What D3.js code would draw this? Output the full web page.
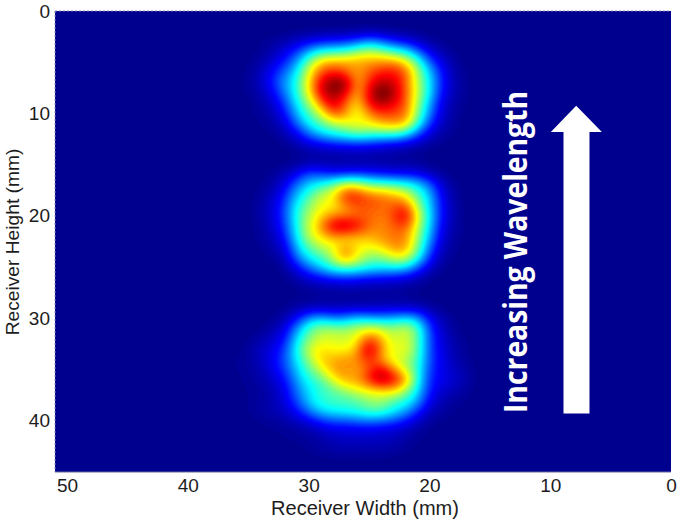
<!DOCTYPE html>
<html>
<head>
<meta charset="utf-8">
<script src="https://cdnjs.cloudflare.com/ajax/libs/d3/7.8.5/d3.min.js"></script>
<style>
html, body { margin: 0; padding: 0; background: #fff; }
svg { display: block; }
text { font-family: "Liberation Sans", Arial, sans-serif; fill: #1c1c1c; }
</style>
</head>
<body>
<svg id="chart" width="680" height="520"></svg>
<script>
//--------------------------DATA------------------------------------------------
var xTicks = [50, 40, 30, 20, 10, 0];
var yTicks = [0, 10, 20, 30, 40];
var xLabel = "Receiver Width (mm)";
var yLabel = "Receiver Height (mm)";
var note = "Increasing Wavelength";

// receiver width (mm) of each column in the spot tables below
var spotWidths = [36, 35, 34, 33, 32, 31, 30, 29, 28, 27, 26, 25, 24, 23, 22, 21, 20, 19, 18, 17];

// intensity in percent; first row is at the given height (mm)
var topStart = 2;
var topSpot = [
    [0,0,0,0,0,1,1,2,2,2,3,4,3,2,1,1,0,0,0,0],
    [0,0,1,2,4,7,11,14,15,17,20,27,22,16,12,7,3,1,0,0],
    [0,0,1,4,10,18,30,40,42,44,52,58,52,44,38,24,11,4,1,0],
    [0,1,3,8,16,27,50,68,72,72,72,72,74,75,66,46,22,10,3,0],
    [0,1,5,13,23,36,60,80,84,80,70,80,85,86,80,54,33,14,4,1],
    [0,2,6,15,28,40,64,90,102,102,70,85,96,92,80,56,36,15,5,1],
    [0,1,4,11,24,40,62,90,98,92,68,90,106,96,80,58,36,13,5,1],
    [0,0,3,7,18,36,52,76,94,80,64,88,96,90,80,54,30,10,3,1],
    [0,0,2,4,13,30,45,58,80,76,58,75,82,80,78,50,26,8,3,0],
    [0,0,1,3,8,22,37,46,54,58,64,62,70,72,70,42,18,6,2,0],
    [0,0,0,1,4,11,23,32,38,42,46,44,42,42,36,21,9,3,1,0],
    [0,0,0,0,1,4,8,11,13,14,15,14,12,10,8,5,2,1,0,0],
    [0,0,0,0,0,1,2,3,3,4,4,4,3,3,2,1,0,0,0,0]
];
var middleStart = 15;
var middleSpot = [
    [0,0,0,0,1,2,5,5,4,4,4,4,4,3,3,3,1,0,0,0],
    [0,0,0,2,5,12,22,20,17,18,20,18,16,14,14,12,7,3,0,0],
    [0,0,1,3,10,24,34,40,48,62,60,50,48,46,42,36,24,8,2,0],
    [0,0,2,6,15,32,43,58,62,86,86,78,76,70,64,46,32,11,3,0],
    [0,0,3,8,18,38,50,62,62,74,80,80,78,78,82,54,34,13,4,0],
    [0,0,3,8,19,40,55,66,74,74,78,78,76,80,94,62,36,13,4,0],
    [0,0,2,7,17,38,58,72,94,98,90,78,74,78,82,58,34,11,4,0],
    [0,0,2,5,14,36,56,66,72,68,70,70,74,76,76,54,30,9,3,0],
    [0,0,1,4,9,30,47,56,60,72,64,62,66,74,74,50,24,6,2,0],
    [0,0,0,2,5,24,37,44,56,78,62,51,51,60,62,42,17,4,1,0],
    [0,0,0,0,2,12,24,33,42,46,44,39,37,37,35,22,8,2,0,0],
    [0,0,0,0,1,4,9,13,16,18,16,14,13,12,10,6,2,0,0,0],
    [0,0,0,0,0,1,2,3,3,4,4,3,3,3,2,1,0,0,0,0]
];
var bottomStart = 28;
var bottomSpot = [
    [0,0,0,0,0,1,1,2,2,2,2,2,2,2,2,1,0,0,0,0],
    [0,0,0,0,1,3,5,6,5,6,6,6,7,7,7,6,3,1,0,0],
    [0,0,0,1,4,13,26,30,25,26,32,30,28,30,32,30,12,5,1,0],
    [0,0,1,4,9,26,44,54,52,52,56,60,58,52,60,46,18,7,2,0],
    [0,1,3,7,13,34,50,58,60,58,62,82,70,56,60,46,20,9,3,1],
    [0,2,6,10,18,38,58,66,62,62,68,98,74,60,64,46,20,10,4,1],
    [1,2,6,11,20,36,52,68,70,74,74,86,72,60,56,44,20,11,5,2],
    [1,2,4,10,18,32,46,58,72,74,70,80,92,74,58,42,18,11,6,3],
    [0,2,3,7,13,28,40,46,60,72,72,86,98,90,76,40,17,11,8,4],
    [0,1,2,5,10,24,35,42,46,54,60,64,66,68,54,36,15,8,5,2],
    [0,1,2,4,9,20,33,42,44,44,46,52,54,46,42,30,11,5,2,1],
    [0,1,3,4,7,13,25,34,38,40,42,46,46,38,30,18,6,3,1,0],
    [0,0,1,2,3,6,10,16,20,20,22,24,22,20,14,7,2,1,0,0],
    [0,0,0,1,1,2,3,6,8,9,9,9,8,7,5,2,1,0,0,0],
    [0,0,0,0,1,1,2,3,5,6,6,6,6,5,3,1,0,0,0,0],
    [0,0,0,0,0,0,1,2,3,3,3,3,3,2,1,0,0,0,0,0]
];

//--------------------------GRID------------------------------------------------
var maxWidth = 51;
var maxHeight = 45;
var cols = maxWidth + 1;
var rows = maxHeight + 1;
var grid = new Array(cols * rows).fill(0);

function addSpot(spot, start) {
    spot.forEach(function(row, r) {
        row.forEach(function(v, c) {
            grid[(start + r) * cols + (maxWidth - spotWidths[c])] = v;
        });
    });
}
addSpot(topSpot, topStart);
addSpot(middleSpot, middleStart);
addSpot(bottomSpot, bottomStart);

// the reference is shaded smoothly, so resample the 1 mm grid with a cubic kernel
var k = 4;
var fineCols = (cols - 1) * k + 1;
var fineRows = (rows - 1) * k + 1;

function cubic(a, b, c, d, t) {
    return b + 0.5 * t * (c - a + t * (2 * a - 5 * b + 4 * c - d + t * (3 * (b - c) + d - a)));
}
function at(r, c) {
    r = Math.max(0, Math.min(rows - 1, r));
    c = Math.max(0, Math.min(cols - 1, c));
    return grid[r * cols + c];
}
var fine = new Float64Array(fineCols * fineRows);
for (var j = 0; j < fineRows; j++) {
    var r0 = Math.floor(j / k), ty = j / k - r0;
    for (var i = 0; i < fineCols; i++) {
        var c0 = Math.floor(i / k), tx = i / k - c0;
        var line = [-1, 0, 1, 2].map(function(dr) {
            return cubic(at(r0 + dr, c0 - 1), at(r0 + dr, c0), at(r0 + dr, c0 + 1), at(r0 + dr, c0 + 2), tx);
        });
        fine[j * fineCols + i] = cubic(line[0], line[1], line[2], line[3], ty);
    }
}
// soften the edges a little
d3.blur2({data: fine, width: fineCols, height: fineRows}, 1.5);

//--------------------------D3--------------------------------------------------
var svg = d3.select("#chart");
var x = d3.scaleLinear().domain([maxWidth, 0]).range([55, 671]);
var y = d3.scaleLinear().domain([0, maxHeight]).range([11, 472]);

// matlab jet
var jet = d3.scaleLinear()
    .domain([0, 12.5, 37.5, 62.5, 87.5, 100])
    .range(["#00008f", "#0000ff", "#00ffff", "#ffff00", "#ff0000", "#800000"])
    .clamp(true);

svg.append("clipPath").attr("id", "plot")
    .append("rect")
    .attr("x", x(maxWidth)).attr("y", y(0))
    .attr("width", x(0) - x(maxWidth)).attr("height", y(maxHeight) - y(0));

var g = svg.append("g").attr("clip-path", "url(#plot)");
g.append("rect")
    .attr("x", x(maxWidth)).attr("y", y(0))
    .attr("width", x(0) - x(maxWidth)).attr("height", y(maxHeight) - y(0))
    .style("fill", jet(0));

var toPlot = d3.geoTransform({
    point: function(cx, cy) {
        this.stream.point(x(maxWidth - (cx - 0.5) / k), y((cy - 0.5) / k));
    }
});
var path = d3.geoPath(toPlot);
var contours = d3.contours()
    .size([fineCols, fineRows])
    .thresholds(d3.range(1, 100))
    .smooth(true)(Array.from(fine));

g.selectAll(".level")
    .data(contours)
    .enter().append("path")
    .attr("class", "level")
    .attr("d", path)
    .style("fill", function(d) { return jet(d.value); })
    .style("stroke", function(d) { return jet(d.value); })
    .style("stroke-width", 0.6);

// dotted edge on top and left, thin solid line at the bottom
svg.append("line")
    .attr("x1", x(maxWidth)).attr("x2", x(0)).attr("y1", y(0)).attr("y2", y(0))
    .style("stroke", "#8a8ac0").style("stroke-dasharray", "2,2");
svg.append("line")
    .attr("x1", x(maxWidth)).attr("x2", x(maxWidth)).attr("y1", y(0)).attr("y2", y(maxHeight))
    .style("stroke", "#8a8ac0").style("stroke-dasharray", "2,2");
svg.append("line")
    .attr("x1", x(maxWidth)).attr("x2", x(0)).attr("y1", y(maxHeight)).attr("y2", y(maxHeight))
    .style("stroke", "#6a6a9a");

// axes
var xAxis = d3.axisBottom(x).tickValues(xTicks).tickSize(0).tickPadding(7);
var yAxis = d3.axisLeft(y).tickValues(yTicks).tickSize(0).tickPadding(5);
svg.append("g").attr("transform", "translate(0," + y(maxHeight) + ")").call(xAxis)
    .call(function(a) { a.select(".domain").remove(); })
    .selectAll("text").style("font-size", "19px");
svg.append("g").attr("transform", "translate(" + x(maxWidth) + ",0)").call(yAxis)
    .call(function(a) { a.select(".domain").remove(); })
    .selectAll("text").style("font-size", "19px");

svg.append("text")
    .attr("x", 365).attr("y", 515)
    .style("text-anchor", "middle").style("font-size", "20px")
    .text(xLabel);
svg.append("text")
    .attr("transform", "translate(19,242) rotate(-90)")
    .style("text-anchor", "middle").style("font-size", "19.2px")
    .text(yLabel);

// annotation
svg.append("text")
    .attr("transform", "translate(527,413) rotate(-90)")
    .attr("textLength", 322)
    .attr("lengthAdjust", "spacingAndGlyphs")
    .style("font-family", '"Open Sans", sans-serif')
    .style("font-weight", 700)
    .style("font-size", "32px")
    .style("fill", "#fff")
    .text(note);

var arrow = d3.path();
arrow.moveTo(x(8.9), y(39.3));
arrow.lineTo(x(8.9), y(11.8));
arrow.lineTo(x(9.95), y(11.8));
arrow.lineTo(x(7.85), y(9.25));
arrow.lineTo(x(5.72), y(11.8));
arrow.lineTo(x(6.75), y(11.8));
arrow.lineTo(x(6.75), y(39.3));
arrow.closePath();
svg.append("path").attr("d", arrow.toString()).style("fill", "#fff");
</script>
</body>
</html>
